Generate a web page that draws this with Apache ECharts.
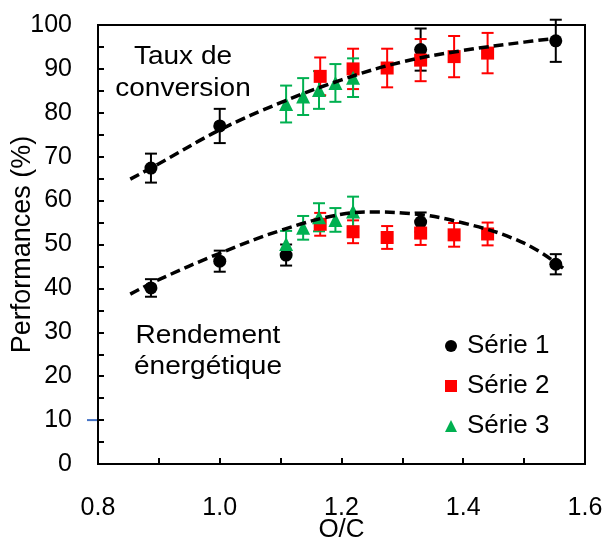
<!DOCTYPE html>
<html><head><meta charset="utf-8">
<script src="https://cdn.jsdelivr.net/npm/echarts@6/dist/echarts.min.js"></script>
<style>html,body{margin:0;padding:0;background:#fff}#c{width:605px;height:540px}</style>
</head><body><div id="c"></div>
<script>
// ---- data ----
const xTickValues = [0.8, 1.0, 1.2, 1.4, 1.6];
const yTickValues = [0, 10, 20, 30, 40, 50, 60, 70, 80, 90, 100];

const s1Name = 'Série 1';
const s1X = [0.887, 1.0, 1.33, 1.552, 0.887, 1.0, 1.109, 1.33, 1.552];
const s1Y = [67.4, 77.0, 94.4, 96.4, 40.1, 46.2, 47.6, 55.1, 45.5];
const s1Err = [3.3, 3.9, 4.8, 4.8, 2.0, 2.4, 2.4, 2.2, 2.3];

const s2Name = 'Série 2';
const s2X = [1.165, 1.219, 1.275, 1.33, 1.385, 1.44, 1.165, 1.219, 1.275, 1.33, 1.385, 1.44];
const s2Y = [88.3, 90.0, 90.2, 92.0, 92.8, 93.6, 54.6, 52.9, 51.6, 52.6, 52.2, 52.4];
const s2Err = [4.3, 4.6, 4.4, 4.8, 4.7, 4.6, 2.6, 2.6, 2.6, 2.7, 2.7, 2.6];

const s3Name = 'Série 3';
const s3X = [1.109, 1.137, 1.163, 1.19, 1.219, 1.109, 1.137, 1.163, 1.19, 1.219];
const s3Y = [82.0, 83.7, 85.2, 86.8, 88.0, 50.1, 53.8, 56.2, 55.6, 57.5];
const s3Err = [4.2, 4.2, 4.3, 4.3, 4.4, 3.0, 2.7, 3.2, 2.7, 3.4];

// dashed trend curves
const convTrendX = [0.853, 0.9, 1.0, 1.1, 1.2, 1.3, 1.4, 1.5, 1.542];
const convTrendY = [64.9, 68.4, 76.1, 82.3, 87.5, 91.6, 94.2, 96.1, 96.8];
const yieldTrendX = [0.853, 0.9, 1.0, 1.1, 1.2, 1.25, 1.3, 1.4, 1.5, 1.564];
const yieldTrendY = [38.7, 42.0, 48.0, 53.2, 56.9, 57.4, 57.2, 54.9, 50.3, 44.6];

const xAxisTitle = 'O/C';
const yAxisTitle = 'Performances (%)';
const noteTop = 'Taux de\nconversion';
const noteBottom = 'Rendement\nénergétique';

// ---- chart ----
const FONT = 'Liberation Sans, Arial, sans-serif';
const BLACK = '#000000', RED = '#FF0000', GREEN = '#00B050';

function zip3(a, b, c) { return a.map((v, i) => [v, b[i], c[i]]); }
function zip2(a, b) { return a.map((v, i) => [v, b[i]]); }

function errRender(color) {
  return function (params, api) {
    const x = api.value(0), y = api.value(1), e = api.value(2);
    const top = api.coord([x, y + e]), bot = api.coord([x, y - e]);
    const hw = 6;
    const style = { stroke: color, lineWidth: 2, fill: null };
    return {
      type: 'group', children: [
        { type: 'line', shape: { x1: top[0], y1: top[1], x2: bot[0], y2: bot[1] }, style: style },
        { type: 'line', shape: { x1: top[0] - hw, y1: top[1], x2: top[0] + hw, y2: top[1] }, style: style },
        { type: 'line', shape: { x1: bot[0] - hw, y1: bot[1], x2: bot[0] + hw, y2: bot[1] }, style: style }
      ]
    };
  };
}

function errSeries(x, y, e, color) {
  return {
    type: 'custom', renderItem: errRender(color), data: zip3(x, y, e),
    encode: { x: 0, y: 1 }, silent: true, clip: false
  };
}

const chart = echarts.init(document.getElementById('c'), null, { renderer: 'canvas' });
const xStep = xTickValues[1] - xTickValues[0];
const yStep = yTickValues[1] - yTickValues[0];

function notes(extra) {
  const g = [
    { type: 'text', x: 183, y: 73, scaleX: 1.12, style: { text: noteTop, fontSize: 25, fontFamily: FONT, fill: BLACK, align: 'center', verticalAlign: 'middle', lineHeight: 32 } },
    { type: 'text', x: 208, y: 352, scaleX: 1.12, style: { text: noteBottom, fontSize: 25, fontFamily: FONT, fill: BLACK, align: 'center', verticalAlign: 'middle', lineHeight: 31 } }
  ];
  return extra ? g.concat(extra) : g;
}

chart.setOption({
  animation: false,
  backgroundColor: '#fff',
  textStyle: { fontFamily: FONT },
  grid: { left: 98, right: 20, top: 25, bottom: 76, containLabel: false, outerBoundsMode: 'none',
    show: true, borderColor: BLACK, borderWidth: 2, backgroundColor: 'transparent' },
  legend: {
    orient: 'vertical', left: 440, top: 328, itemWidth: 12, itemHeight: 12, itemGap: 14,
    textStyle: { fontSize: 26, color: BLACK, fontFamily: FONT, padding: [0, 0, 0, 5] },
    data: [{ name: s1Name, icon: 'circle' }, { name: s2Name, icon: 'rect' }, { name: s3Name, icon: 'triangle' }],
    selectedMode: false
  },
  xAxis: {
    type: 'value', min: xTickValues[0], max: xTickValues[xTickValues.length - 1], interval: xStep,
    name: xAxisTitle, nameLocation: 'middle', nameGap: 53, nameMoveOverlap: false,
    nameTextStyle: { fontSize: 26, color: BLACK, fontFamily: FONT },
    axisLine: { show: true, lineStyle: { color: BLACK, width: 2 } },
    axisTick: { show: true, inside: true, length: 6, lineStyle: { color: BLACK, width: 2 } },
    minorTick: { show: true, splitNumber: 2, length: 6, lineStyle: { color: BLACK, width: 2 } },
    axisLabel: { fontSize: 25, color: BLACK, margin: 32, formatter: v => v.toFixed(1) },
    splitLine: { show: false }
  },
  yAxis: {
    type: 'value', min: yTickValues[0], max: yTickValues[yTickValues.length - 1], interval: yStep,
    name: yAxisTitle, nameLocation: 'middle', nameGap: 62, nameRotate: 90, nameMoveOverlap: false,
    nameTextStyle: { fontSize: 27, color: BLACK, fontFamily: FONT },
    axisLine: { show: true, lineStyle: { color: BLACK, width: 2 } },
    axisTick: { show: true, inside: true, length: 6, lineStyle: { color: BLACK, width: 2 } },
    minorTick: { show: true, splitNumber: 2, length: 6, lineStyle: { color: BLACK, width: 2 } },
    axisLabel: { fontSize: 25, color: BLACK, margin: 26 },
    splitLine: { show: false }
  },
  graphic: notes(),
  series: [
    errSeries(s1X, s1Y, s1Err, BLACK),
    { name: s1Name, type: 'scatter', data: zip2(s1X, s1Y), symbol: 'circle', symbolSize: 13, itemStyle: { color: BLACK, opacity: 1 } },
    errSeries(s2X, s2Y, s2Err, RED),
    { name: s2Name, type: 'scatter', data: zip2(s2X, s2Y), symbol: 'rect', symbolSize: 13, itemStyle: { color: RED, opacity: 1 } },
    errSeries(s3X, s3Y, s3Err, GREEN),
    { name: s3Name, type: 'scatter', data: zip2(s3X, s3Y), symbol: 'triangle', symbolSize: 14, itemStyle: { color: GREEN, opacity: 1 } },
    { name: 'fit1', type: 'line', data: zip2(convTrendX, convTrendY), smooth: 0.4, showSymbol: false, symbol: 'none',
      lineStyle: { color: BLACK, width: 3.5, type: [10, 5] }, z: 5 },
    { name: 'fit2', type: 'line', data: zip2(yieldTrendX, yieldTrendY), smooth: 0.4, showSymbol: false, symbol: 'none',
      lineStyle: { color: BLACK, width: 3.5, type: [10, 5] }, z: 5 }
  ]
});

// small blue dash at the 10 tick on the left of the axis (as in the reference)
const p10 = chart.convertToPixel({ gridIndex: 0 }, [xTickValues[0], yTickValues[1]]);
chart.setOption({
  graphic: notes([
    { type: 'line', shape: { x1: p10[0] - 11, y1: p10[1], x2: p10[0] - 1, y2: p10[1] }, style: { stroke: '#4472C4', lineWidth: 2 } }
  ])
});
</script>
</body></html>
